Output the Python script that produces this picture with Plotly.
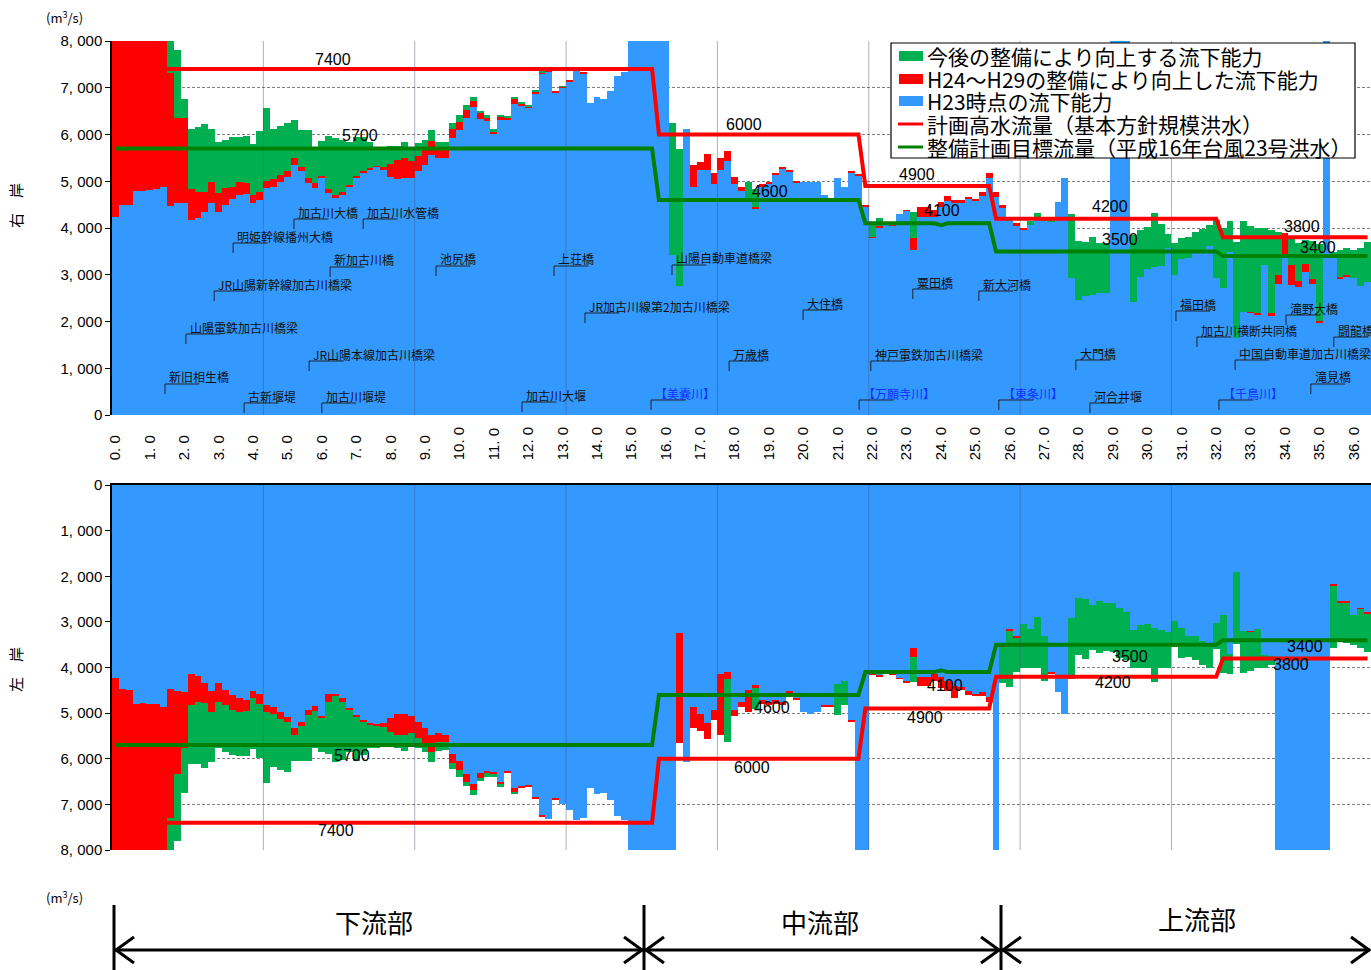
import plotly.graph_objects as go

W, H = 1371, 970
PX0 = 112  # left edge of plot area (px)

# ---------------- data ----------------
KM = [round(i * 0.2, 1) for i in range(183)]  # 0.0 ... 36.4 km, 0.2 km step

# Right bank (右岸): cumulative tops of H23 capacity / after H24-H29 works / after future works
R_BLUE = [4240, 4490, 4490, 4790, 4790, 4810, 4830, 4870, 4470, 4540,
          4540, 4170, 4210, 4350, 4530, 4350, 4490, 4630, 4710, 4720,
          4540, 4600, 4850, 4880, 4990, 5100, 5350, 5210, 4960, 4860,
          5060, 4740, 4650, 4710, 4880, 5060, 5170, 5240, 5310, 5240,
          5100, 5050, 5080, 5080, 5210, 5350, 5560, 5490, 5490, 5920,
          6100, 6360, 6580, 6330, 6290, 6010, 6320, 6320, 6650, 6630,
          6570, 6880, 7310, 7340, 6890, 7000, 7140, 7360, 7310, 6680,
          6810, 6770, 6930, 7260, 7340, 8200, 8200, 8200, 8200, 8200,
          8200, 3420, 2750, 6110, 4880, 5240, 5240, 4940, 5240, 5430,
          4940, 4800, 4560, 4400, 4880, 4940, 5130, 5280, 5210, 4970,
          4990, 4990, 4990, 4710, 4560, 5080, 4880, 5180, 5120, 4460,
          3800, 4010, 4060, 4060, 4310, 4370, 3540, 4240, 4240, 4240,
          4460, 4580, 4530, 4530, 4630, 4590, 4680, 5060, 4670, 4420,
          4190, 4040, 3960, 4060, 4210, 4170, 4130, 4560, 5080, 2920,
          2470, 2550, 2570, 2600, 2600, 8200, 8200, 8200, 2420, 2960,
          3120, 3160, 3190, 3570, 3000, 3330, 3350, 3470, 3530, 3620,
          2920, 2710, 3490, 1640, 2210, 2190, 2140, 3210, 2120, 2800,
          3450, 2780, 2730, 3050, 2800, 1960, 8200, 3420, 2920, 2960,
          2920, 2750, 2850]
R_RED = [8200, 8200, 8200, 8200, 8200, 8200, 8200, 8200, 7310, 6350,
         6350, 4830, 4760, 4780, 4990, 4740, 4850, 4880, 4980, 4960,
         4710, 4780, 5010, 5050, 5130, 5210, 5490, 5310, 5080, 4960,
         5120, 4830, 4710, 4780, 4920, 5120, 5220, 5290, 5330, 5310,
         5360, 5460, 5490, 5430, 5540, 5670, 5860, 5670, 5680, 6110,
         6270, 6520, 6720, 6450, 6360, 6060, 6370, 6360, 6760, 6660,
         6600, 6910, 7330, 7370, 6930, 7020, 7160, 7370, 7330, 6680,
         6810, 6770, 6930, 7260, 7340, 8200, 8200, 8200, 8200, 8200,
         8200, 3420, 2750, 6110, 5350, 5420, 5580, 5170, 5490, 5650,
         5100, 4880, 4610, 4460, 4940, 4990, 5180, 5310, 5240, 5010,
         4990, 4990, 4990, 4710, 4560, 5080, 4880, 5200, 5150, 4480,
         3810, 4040, 4060, 4070, 4310, 4380, 3780, 4460, 4440, 4390,
         4560, 4690, 4590, 4590, 4670, 4630, 4780, 5180, 4780, 4490,
         4210, 4100, 4010, 4060, 4210, 4170, 4130, 4560, 5080, 2920,
         2470, 2550, 2570, 2600, 2600, 8200, 8200, 8200, 2420, 2960,
         3120, 3160, 3190, 3570, 3000, 3330, 3350, 3470, 3530, 3620,
         2920, 2710, 3490, 1640, 2210, 2200, 2180, 3210, 2180, 3000,
         3900, 3210, 2870, 3240, 2900, 2010, 8200, 3450, 2950, 2990,
         2920, 2750, 2850]
R_GREEN = [8200, 8200, 8200, 8200, 8200, 8200, 8200, 8200, 8200, 7810,
           6770, 6120, 6150, 6220, 6120, 5850, 5880, 5940, 5950, 5970,
           5790, 6080, 6570, 6120, 6190, 6250, 6310, 6100, 6100, 5740,
           5860, 5970, 5920, 5880, 5850, 5950, 5950, 5830, 5740, 5740,
           5750, 5760, 5830, 5740, 5810, 5880, 6100, 5850, 5830, 6250,
           6420, 6630, 6810, 6500, 6420, 6120, 6420, 6400, 6810, 6680,
           6620, 6940, 7340, 7380, 6930, 7030, 7160, 7370, 7330, 6680,
           6810, 6770, 6930, 7260, 7340, 8200, 8200, 8200, 8200, 8200,
           8200, 6250, 5690, 6110, 5350, 5420, 5580, 5170, 5490, 5650,
           5100, 4880, 4990, 4830, 4940, 4990, 5180, 5310, 5240, 5010,
           4990, 4990, 4990, 4710, 4580, 5080, 4880, 5200, 5150, 4480,
           4080, 4210, 4060, 4070, 4310, 4380, 4350, 4460, 4440, 4390,
           4560, 4690, 4590, 4590, 4670, 4630, 4780, 5180, 4780, 4490,
           4210, 4100, 4010, 4150, 4330, 4200, 4160, 4560, 5080, 4290,
           3730, 3690, 3810, 3670, 3670, 8200, 8200, 8200, 3860, 3960,
           4030, 4330, 4080, 3870, 3670, 3780, 3800, 3920, 3970, 4060,
           4170, 4010, 4160, 3690, 4140, 4040, 4010, 3990, 3960, 3920,
           3900, 3760, 3670, 3740, 3730, 3660, 8200, 3490, 3530, 3570,
           3530, 3570, 3710]

# Left bank (左岸)
L_BLUE = [4240, 4470, 4490, 4790, 4770, 4810, 4790, 4860, 4470, 4520,
          4540, 4150, 4190, 4350, 4520, 4350, 4490, 4600, 4660, 4710,
          4520, 4590, 4820, 4860, 4980, 5080, 5330, 5190, 4930, 4840,
          5080, 4570, 4570, 4660, 4880, 5040, 5150, 5220, 5260, 5220,
          5100, 5030, 5030, 5060, 5200, 5320, 5470, 5440, 5470, 5900,
          6060, 6340, 6560, 6320, 6270, 6290, 6500, 6270, 6650, 6610,
          6580, 6850, 7250, 7330, 6870, 7000, 7120, 7340, 7290, 6650,
          6780, 6760, 6900, 7250, 7340, 8200, 8200, 8200, 8200, 8200,
          8200, 8200, 3250, 6080, 4860, 5030, 5220, 4930, 4150, 4090,
          4930, 4760, 4490, 4380, 4710, 4750, 4710, 4750, 4520, 4690,
          4980, 5030, 4980, 4840, 4840, 4370, 4300, 5170, 8200, 8200,
          4130, 4170, 4060, 4130, 4240, 4310, 3570, 4200, 4200, 4150,
          4200, 4300, 4400, 4420, 4520, 4570, 4530, 4640, 8200, 3520,
          3160, 3320, 3050, 3160, 2890, 3300, 4110, 4530, 5030, 2910,
          2470, 2500, 2620, 2540, 2580, 2590, 2690, 2780, 3180, 3070,
          3050, 3140, 3180, 3230, 2980, 3140, 3320, 3320, 3430, 3470,
          3030, 2850, 3700, 1900, 3210, 3200, 3160, 3730, 3740, 8200,
          8200, 8200, 8200, 8200, 8200, 8200, 8200, 2190, 2560, 2560,
          2860, 2700, 2800]
L_RED = [8200, 8200, 8200, 8200, 8200, 8200, 8200, 8200, 7290, 6340,
         5760, 4820, 4750, 4770, 4980, 4750, 4820, 4930, 4970, 4960,
         4660, 4810, 4980, 5030, 5130, 5190, 5470, 5280, 5040, 4950,
         5110, 4750, 4620, 4750, 4930, 5090, 5200, 5260, 5280, 5300,
         5410, 5470, 5480, 5440, 5540, 5740, 5850, 5630, 5630, 6100,
         6250, 6500, 6690, 6420, 6320, 6340, 6560, 6310, 6720, 6650,
         6610, 6880, 7280, 7330, 6900, 7000, 7120, 7340, 7290, 6650,
         6780, 6760, 6900, 7250, 7340, 8200, 8200, 8200, 8200, 8200,
         8200, 8200, 5660, 6080, 5320, 5390, 5570, 5150, 5480, 4250,
         5060, 4860, 4970, 4440, 4800, 4820, 4800, 4820, 4550, 4710,
         4980, 5030, 4980, 4860, 4860, 4370, 4300, 5190, 8200, 8200,
         4170, 4200, 4110, 4150, 4250, 4350, 3760, 4400, 4400, 4300,
         4460, 4520, 4660, 4490, 4600, 4620, 4620, 4760, 8200, 3560,
         3210, 3360, 3050, 3160, 2890, 3300, 4130, 4530, 5030, 2910,
         2470, 2500, 2620, 2540, 2580, 2590, 2690, 2780, 3180, 3070,
         3050, 3140, 3180, 3230, 2980, 3140, 3320, 3320, 3430, 3470,
         3030, 2850, 3700, 1900, 3210, 3220, 3160, 3730, 3740, 8200,
         8200, 8200, 8200, 8200, 8200, 8200, 8200, 2210, 2580, 2580,
         2860, 2720, 2820]
L_GREEN = [8200, 8200, 8200, 8200, 8200, 8200, 8200, 8200, 8200, 7800,
           6760, 6120, 6120, 6210, 6080, 5760, 5850, 5920, 5940, 5950,
           5790, 5990, 6540, 6170, 6250, 6280, 6050, 6060, 6050, 5760,
           5850, 5900, 6080, 6030, 5850, 6050, 5920, 5760, 5760, 5740,
           5740, 5770, 5830, 5740, 5770, 5860, 6080, 5830, 5810, 6230,
           6390, 6590, 6800, 6490, 6390, 6390, 6610, 6310, 6780, 6650,
           6610, 6880, 7280, 7330, 6900, 7000, 7120, 7340, 7290, 6650,
           6780, 6760, 6900, 7250, 7340, 8200, 8200, 8200, 8200, 8200,
           8200, 8200, 5660, 6080, 5320, 5390, 5570, 5150, 5480, 5630,
           5060, 4860, 4970, 4900, 4800, 4820, 4800, 4820, 4550, 4710,
           4980, 5030, 4980, 4860, 4860, 5040, 4820, 5190, 8200, 8200,
           4170, 4200, 4110, 4150, 4250, 4350, 4310, 4400, 4400, 4300,
           4460, 4520, 4660, 4490, 4600, 4620, 4620, 4760, 8200, 4350,
           4420, 4090, 4020, 4020, 4000, 4300, 4130, 4530, 5030, 4250,
           3730, 3810, 3620, 3690, 3640, 3670, 3800, 3840, 4020, 4000,
           4020, 4310, 4020, 4020, 3540, 3800, 3760, 3840, 3950, 4000,
           3600, 4130, 4150, 3490, 4110, 4080, 4000, 4000, 3950, 8200,
           8200, 8200, 8200, 8200, 8200, 8200, 8200, 3570, 3420, 3470,
           3510, 3580, 3650]

# Step lines
PLAN_X = [0.0, 15.6, 15.8, 21.6, 21.8, 25.4, 25.6, 32.0, 32.2, 36.4]
PLAN_Y = [7400, 7400, 6000, 6000, 4900, 4900, 4200, 4200, 3800, 3800]
TARGET_X = [0.0, 15.6, 15.8, 21.6, 21.8, 23.8, 24.0, 24.2, 25.4, 25.6, 32.0, 32.2, 36.4]
TARGET_Y = [5700, 5700, 4600, 4600, 4100, 4100, 4060, 4100, 4100, 3500, 3500, 3400, 3400]

TICK_KM = list(range(37)) + [36.4]
TICK_TEXT = [f"{v:.1f}".replace(".", ". ") for v in TICK_KM]
Y_TICKS = list(range(0, 8001, 1000))
Y_TEXT = ["0"] + [f"{v // 1000}, 000" for v in Y_TICKS[1:]]

LEGEND_NAMES = ["今後の整備により向上する流下能力",
                "H24～H29の整備により向上した流下能力",
                "H23時点の流下能力",
                "計画高水流量（基本方針規模洪水）",
                "整備計画目標流量（平成16年台風23号洪水）"]

# bridge / river names and their km position
BRIDGES = ["新旧相生橋", "山陽電鉄加古川橋梁", "JR山陽新幹線加古川橋梁", "明姫幹線播州大橋",
           "古新堰堤", "加古川大橋", "JR山陽本線加古川橋梁", "加古川堰堤", "新加古川橋",
           "加古川水管橋", "池尻橋", "加古川大堰", "上荘橋", "JR加古川線第2加古川橋梁",
           "【美嚢川】", "山陽自動車道橋梁", "万歳橋", "大住橋", "【万願寺川】",
           "神戸電鉄加古川橋梁", "粟田橋", "新大河橋", "【東条川】", "大門橋", "河合井堰",
           "福田橋", "加古川横断共同橋", "【千鳥川】", "中国自動車道加古川橋梁",
           "滝野大橋", "滝見橋", "闘龍橋"]
BRIDGE_KM = [1.44, 2.05, 2.87, 3.42, 3.74, 5.19, 5.63, 6.0, 6.24, 7.2, 9.32, 11.82,
             12.75, 13.65, 15.57, 16.18, 17.84, 19.99, 21.62, 21.96, 23.18, 25.1,
             25.68, 27.92, 28.33, 30.83, 31.44, 32.08, 32.55, 34.03, 34.75, 35.42]
# label text centre height (px) – layout only
BRIDGE_YPX = [377, 327, 284, 236, 396, 212, 354, 396, 260, 212, 259, 395, 259, 306,
              393, 258, 354, 303, 393, 354, 282, 284, 393, 353, 396, 304, 330, 393,
              353, 308, 377, 330]

for arr in (R_BLUE, R_RED, R_GREEN, L_BLUE, L_RED, L_GREEN):
    assert len(arr) == 183, len(arr)

# ---------------- styling ----------------
C_BLUE = "#3399FF"
C_RED = "#FF0000"
C_GREEN = "#00B050"
C_LGREEN = "#008000"
JP = "Noto Sans CJK JP"
NUM = "Liberation Sans, Noto Sans CJK JP"


def px(x):
    return x / W


def py(y):
    return 1 - y / H


fig = go.Figure()


def add_bank(blue, red, green, xa, ya):
    red_inc = [max(r - b, 0) for b, r in zip(blue, red)]
    green_inc = [max(g - r, 0) for r, g in zip(red, green)]
    for vals, col in ((blue, C_BLUE), (red_inc, C_RED), (green_inc, C_GREEN)):
        fig.add_trace(go.Bar(x=KM, y=vals, width=0.2, marker=dict(color=col, line=dict(width=0)),
                             xaxis=xa, yaxis=ya, hoverinfo="skip"))
    fig.add_trace(go.Scatter(x=PLAN_X, y=PLAN_Y, mode="lines", line=dict(color=C_RED, width=4),
                             xaxis=xa, yaxis=ya, hoverinfo="skip", cliponaxis=True))
    fig.add_trace(go.Scatter(x=TARGET_X, y=TARGET_Y, mode="lines", line=dict(color=C_LGREEN, width=4),
                             xaxis=xa, yaxis=ya, hoverinfo="skip", cliponaxis=True))


add_bank(R_BLUE, R_RED, R_GREEN, "x", "y")
add_bank(L_BLUE, L_RED, L_GREEN, "x2", "y2")

axis_common = dict(range=[-0.1, 36.5], domain=[px(PX0), 1], showgrid=False, zeroline=False,
                   fixedrange=True, automargin=False)
yaxis_common = dict(tickvals=Y_TICKS, ticktext=Y_TEXT, ticks="outside", ticklen=5, tickcolor="black",
                    showline=True, linecolor="black", linewidth=1.5, showgrid=True,
                    gridcolor="#7f7f7f", griddash="3px,2px", gridwidth=1, zeroline=False,
                    tickfont=dict(size=15, family=NUM, color="black"), fixedrange=True,
                    automargin=False)

fig.update_layout(
    width=W, height=H, margin=dict(l=0, r=0, t=0, b=0, autoexpand=False),
    barmode="stack", bargap=0, showlegend=False,
    plot_bgcolor="white", paper_bgcolor="white",
    font=dict(family=JP, color="black"),
    xaxis=dict(**axis_common, anchor="y", showticklabels=False, showline=False),
    yaxis=dict(**yaxis_common, domain=[py(415), py(41)], range=[0, 8000], anchor="x"),
    xaxis2=dict(**axis_common, anchor="y2", side="top", tickvals=TICK_KM, ticktext=TICK_TEXT,
                tickangle=-90, tickfont=dict(size=15, family=NUM, color="black"),
                showline=True, linecolor="black", linewidth=1.5, ticks="", ticklabelstandoff=20),
    yaxis2=dict(**yaxis_common, domain=[py(850), py(485)], range=[8000, 0], anchor="x2"),
)

shapes = []
annotations = []


def note(text, xp, yp, size, family=JP, color="black", angle=0):
    annotations.append(dict(text=text, x=px(xp), y=py(yp), xref="paper", yref="paper",
                            showarrow=False, xanchor="center", yanchor="middle", textangle=angle,
                            font=dict(size=size, family=family, color=color)))


# faint vertical separators
for xv in [4.3, 8.7, 13.1, 17.5, 21.9, 26.3, 30.7]:
    for xr, yr in (("x", "y domain"), ("x2", "y2 domain")):
        shapes.append(dict(type="line", xref=xr, yref=yr, x0=xv, x1=xv, y0=0, y1=1,
                           line=dict(color="rgba(70,80,120,0.45)", width=1), layer="above"))

# line value labels (px positions)
top_labels = [(PLAN_Y[0], 333, 59), (TARGET_Y[0], 360, 136), (PLAN_Y[2], 744, 125),
              (TARGET_Y[2], 770, 192), (PLAN_Y[4], 917, 174), (TARGET_Y[4], 942, 210),
              (PLAN_Y[6], 1110, 206), (TARGET_Y[9], 1120, 239), (PLAN_Y[8], 1302, 226),
              (TARGET_Y[11], 1318, 248)]
bot_labels = [(TARGET_Y[0], 352, 755), (PLAN_Y[0], 336, 830), (TARGET_Y[2], 772, 707),
              (PLAN_Y[2], 752, 767), (TARGET_Y[4], 945, 685), (PLAN_Y[4], 925, 717),
              (TARGET_Y[9], 1130, 656), (PLAN_Y[6], 1113, 682), (TARGET_Y[11], 1305, 646),
              (PLAN_Y[8], 1291, 664)]
for v, xp, yp in top_labels + bot_labels:
    note(str(v), xp, yp, 16, family=NUM)

# bridge labels with leader lines
for name, km, yp in zip(BRIDGES, BRIDGE_KM, BRIDGE_YPX):
    river = name.startswith("【")
    col = "#1030FF" if river else "#111111"
    annotations.append(dict(text=name, x=km + 0.06, y=py(yp), xref="x", yref="paper",
                            showarrow=False, xanchor="left", yanchor="middle",
                            font=dict(size=12, family=JP, color=col)))
    yu = py(yp + 7)
    yb = py(yp + 17)
    shapes.append(dict(type="path", xref="x", yref="paper",
                       path=f"M {km},{yb} L {km},{yu} L {km + 1.0},{yu}",
                       line=dict(color="#222222", width=1), layer="above"))

# units & bank labels
for yp in (17, 897):
    note("(m<sup>3</sup>/s)", 64, yp, 13)
note("右　岸", 15, 206, 15, angle=-90)
note("左　岸", 15, 670, 15, angle=-90)

# legend (manual)
shapes.append(dict(type="rect", xref="paper", yref="paper", x0=px(891), x1=px(1355),
                   y0=py(158), y1=py(43), fillcolor="white", line=dict(color="black", width=1.2),
                   layer="above"))
leg_y = [56, 79, 101, 124, 147]
leg_kind = [("rect", C_GREEN), ("rect", C_RED), ("rect", C_BLUE), ("line", C_RED), ("line", C_LGREEN)]
for (kind, col), yc, name in zip(leg_kind, leg_y, LEGEND_NAMES):
    if kind == "rect":
        shapes.append(dict(type="rect", xref="paper", yref="paper", x0=px(899), x1=px(923),
                           y0=py(yc + 5), y1=py(yc - 5), fillcolor=col, line=dict(width=0),
                           layer="above"))
    else:
        shapes.append(dict(type="line", xref="paper", yref="paper", x0=px(898), x1=px(923),
                           y0=py(yc), y1=py(yc), line=dict(color=col, width=3), layer="above"))
    annotations.append(dict(text=name, x=px(925), y=py(yc), xref="paper", yref="paper",
                            showarrow=False, xanchor="left", yanchor="middle",
                            font=dict(size=21, family=JP, color="black")))

# section arrows at the bottom
blk = dict(color="black", width=3)
for xv in (114, 644, 1001):
    shapes.append(dict(type="line", xref="paper", yref="paper", x0=px(xv), x1=px(xv),
                       y0=py(905), y1=0, line=blk))
shapes.append(dict(type="line", xref="paper", yref="paper", x0=px(114), x1=px(1370),
                   y0=py(950), y1=py(950), line=blk))


def chevron(tip, d):
    x0 = tip + d * 18
    return dict(type="path", xref="paper", yref="paper",
                path=f"M {px(x0)},{py(937)} L {px(tip)},{py(950)} L {px(x0)},{py(963)}",
                line=blk)


for tip, d in ((116, 1), (642, -1), (646, 1), (999, -1), (1003, 1), (1369, -1)):
    shapes.append(chevron(tip, d))
for txt, xc, yc in (("下流部", 374, 921), ("中流部", 820, 921), ("上流部", 1197, 918)):
    note(txt, xc, yc, 26)

fig.update_layout(shapes=shapes, annotations=annotations)

fig.write_html("out.html", config={"displayModeBar": False},
               post_script="document.body.style.margin='0';document.body.style.overflow='hidden';")
